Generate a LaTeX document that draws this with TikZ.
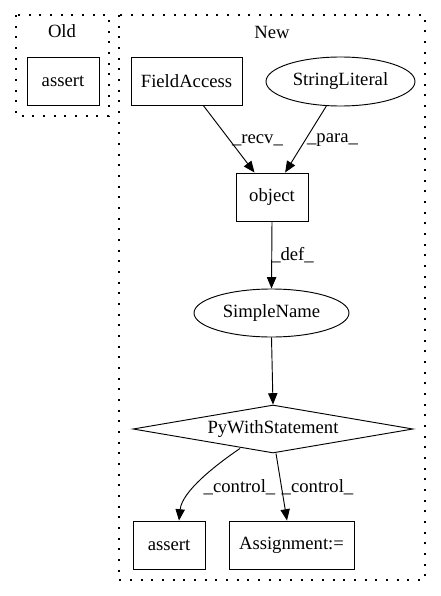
\documentclass[tikz,border=0pt]{standalone}
\usepackage{fontspec}
\setmainfont{Liberation Serif}
\usetikzlibrary{shapes.geometric,arrows.meta,calc}
\begin{document}
\begin{tikzpicture}[x=0.75pt,y=-0.75pt,
  every node/.style={font=\fontsize{14pt}{16pt}\selectfont, inner sep=0pt},
  boxnode/.style={draw, rectangle, line width=0.7pt, minimum height=36pt},
  ellnode/.style={draw, ellipse, line width=0.7pt, minimum height=36pt},
  dianode/.style={draw, diamond, line width=0.7pt, shape aspect=5.8, minimum width=210pt, minimum height=36pt},
  cluster/.style={draw, line width=0.9pt, dash pattern=on 1.5pt off 6.5pt},
  edgeline/.style={draw, line width=0.7pt, -{Triangle[length=8.5pt,width=7pt]}}
]
\useasboundingbox (0,0) rectangle (441,596);
% clusters
\draw[cluster] (16,15) rectangle (109,116);
\draw[cluster] (119,15) rectangle (425,580);
\node (oldlbl) at (62,31) {Old};
\node (newlbl) at (272,32) {New};
% nodes
\node[boxnode, minimum width=54pt] (oassert) at (63,81) {assert};
\node[boxnode, minimum width=83.25pt] (fa) at (186.5,81) {FieldAccess};
\node[ellnode, minimum width=111.75pt, minimum height=36.75pt] (sl) at (340.5,81.5) {StringLiteral};
\node[boxnode, minimum width=54pt] (obj) at (272,197) {object};
\node[ellnode, minimum width=116.25pt] (sn) at (271.5,313) {SimpleName};
\node[dianode] (pw) at (273,429) {PyWithStatement};
\node[boxnode, minimum width=54pt] (nassert) at (169,545) {assert};
\node[boxnode, minimum width=93.75pt] (asg) at (291.5,545) {Assignment:=};
% edges
\draw[edgeline] ($(fa.south west)!0.65!(fa.south east)$) -- ($(obj.north west)!0.26!(obj.north east)$);
\draw[edgeline] (sl.240) -- ($(obj.north west)!0.68!(obj.north east)$);
\draw[edgeline] (obj.south) -- (sn.north);
\draw[edgeline] (sn.south) -- (pw.north);
\draw[edgeline] ($(pw.south)+(-33,-5)$) .. controls ($(pw.south)+(-58,12)$) and ($(nassert.north)+(13,-29)$) .. ($(nassert.north)+(10,0)$);
\draw[edgeline] ($(pw.south)+(3,0)$) -- ($(asg.north)+(-4.5,0)$);
% edge labels
\node (lrecv) at (257.5,140) {\_recv\_};
\node (lpara) at (332.5,140) {\_para\_};
\node (ldef) at (292.5,255) {\_def\_};
\node (lctl1) at (239.5,487) {\_control\_};
\node (lctl2) at (317.5,487) {\_control\_};
\end{tikzpicture}
\end{document}
